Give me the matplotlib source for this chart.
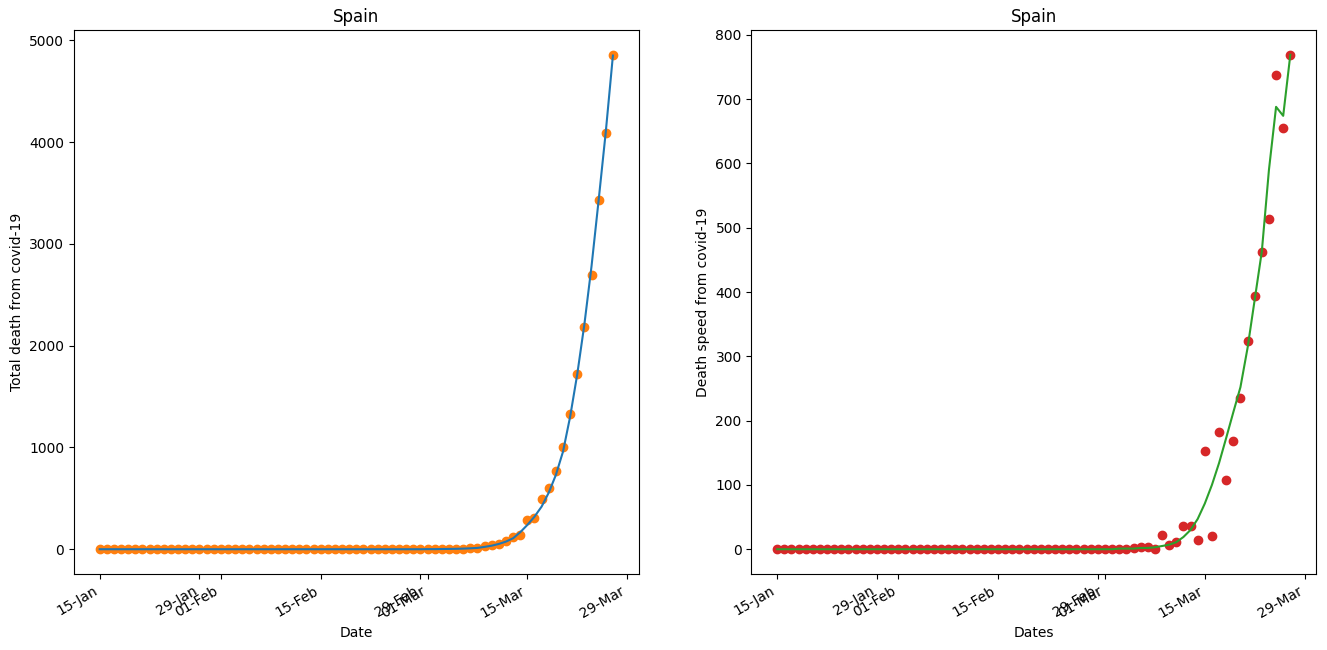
import pandas as pd
import matplotlib
matplotlib.use("Agg")
import matplotlib.pyplot as plt
import matplotlib.dates as mdates

# one value per day, 15-Jan-2020 .. 27-Mar-2020
dates = pd.date_range("2020-01-15", "2020-03-27", freq="D")

n_zero = 49  # 15-Jan .. 03-Mar, nothing reported yet

total_deaths = [0] * n_zero + [1, 3, 6, 9, 10, 32, 38, 49, 84, 121, 136, 288, 309, 491,
                               598, 767, 1002, 1326, 1720, 2182, 2696, 3434, 4089, 4858]

total_fit = [0] * 46 + [1, 1, 2, 3, 4, 6, 9, 13, 23, 35, 52, 75, 108, 167, 239, 320,
                        419, 556, 730, 959, 1302, 1720, 2210, 2780, 3430, 4100, 4850]

daily_deaths = [0] * n_zero + [1, 2, 3, 3, 1, 22, 6, 11, 36, 36, 15, 152, 21, 182,
                               107, 169, 235, 324, 394, 462, 514, 738, 655, 769]

daily_fit = [0] * 46 + [0, 0, 1, 1, 1, 2, 2, 3, 5, 7, 11, 19, 30, 47, 71, 100,
                        134, 173, 213, 252, 313, 388, 463, 590, 688, 674, 769]

country = "Spain"


def format_dates(ax):
    ax.xaxis.set_major_locator(mdates.DayLocator(bymonthday=[1, 15, 29]))
    ax.xaxis.set_major_formatter(mdates.DateFormatter("%d-%b"))


fig, (ax1, ax2) = plt.subplots(1, 2, figsize=(13.27, 6.5), dpi=100)

# total deaths
ax1.scatter(dates, total_deaths, color="C1")
ax1.plot(dates, total_fit, color="C0")
ax1.set_title(country)
ax1.set_xlabel("Date")
ax1.set_ylabel("Total death from covid-19")
format_dates(ax1)

# daily deaths
ax2.scatter(dates, daily_deaths, color="C3")
ax2.plot(dates, daily_fit, color="C2")
ax2.set_title(country)
ax2.set_xlabel("Dates")
ax2.set_ylabel("Death speed from covid-19")
format_dates(ax2)

fig.autofmt_xdate()
fig.subplots_adjust(left=0.0558, right=0.9917, bottom=0.117, top=0.9538, wspace=0.2)

plt.savefig("out.png")
